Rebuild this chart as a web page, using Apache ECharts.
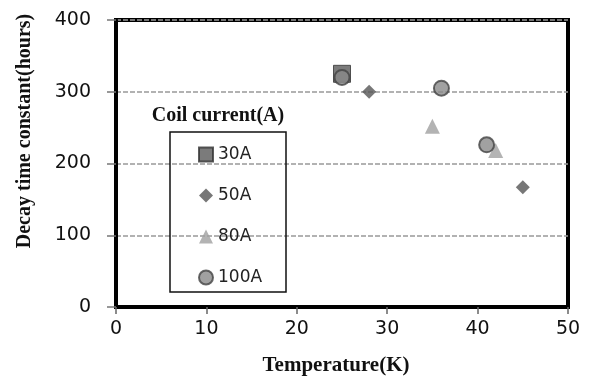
<!DOCTYPE html>
<html>
<head>
<meta charset="utf-8">
<script src="https://cdn.jsdelivr.net/npm/echarts@6/dist/echarts.min.js"></script>
<style>html,body{margin:0;padding:0;background:#fff;}#c{width:592px;height:381px;}</style>
</head>
<body>
<div id="c"></div>
<script>
const seriesNames = ['30A', '50A', '80A', '100A'];
const temp30 = [25];
const val30 = [325];
const temp50 = [28, 45];
const val50 = [300, 167];
const temp80 = [35, 42];
const val80 = [252, 218];
const temp100 = [25, 36, 41];
const val100 = [320, 305, 226];
const xTicks = [0, 10, 20, 30, 40, 50];
const yTicks = [0, 100, 200, 300, 400];
const xTitle = 'Temperature(K)';
const yTitle = 'Decay time constant(hours)';
const legendTitle = 'Coil current(A)';

function pairs(xs, ys) { return xs.map((x, i) => [x, ys[i]]); }

const chart = echarts.init(document.getElementById('c'));
const tickFont = { fontFamily: 'DejaVu Sans', fontSize: 19, color: '#111' };
const serif = '"Liberation Serif", "Times New Roman", serif';

chart.setOption({
  animation: false,
  backgroundColor: '#fff',
  grid: { left: 116, top: 20, right: 24, bottom: 74, show: true, borderColor: '#000', borderWidth: 4 },
  xAxis: {
    type: 'value', min: xTicks[0], max: xTicks[xTicks.length - 1], interval: 10,
    axisLine: { show: true, lineStyle: { color: '#000', width: 4 } },
    axisTick: { show: true, inside: false, length: 7, lineStyle: { color: '#666', width: 1.5 } },
    axisLabel: Object.assign({ margin: 13 }, tickFont),
    splitLine: { show: false }
  },
  yAxis: {
    type: 'value', min: yTicks[0], max: yTicks[yTicks.length - 1], interval: 100,
    axisLine: { show: true, lineStyle: { color: '#000', width: 4 } },
    axisTick: { show: true, inside: false, length: 9, lineStyle: { color: '#777', width: 1.5 } },
    axisLabel: Object.assign({ margin: 25 }, tickFont),
    splitLine: { show: true, lineStyle: { color: '#999', width: 1.5, type: [5, 2] } }
  },
  legend: {
    orient: 'vertical', left: 193, top: 141,
    itemWidth: 14, itemHeight: 14, itemGap: 24,
    textStyle: { fontFamily: 'DejaVu Sans', fontSize: 17, lineHeight: 17, color: '#222' },
    data: seriesNames
  },
  graphic: [
    { type: 'rect', shape: { x: 170, y: 132, width: 116, height: 160 }, style: { fill: 'none', stroke: '#111', lineWidth: 1.5 }, z: 100 },
    { type: 'text', x: 218, y: 116, style: { text: legendTitle, font: 'bold 20px ' + serif, fill: '#111', textAlign: 'center', textVerticalAlign: 'middle' }, z: 100 },
    { type: 'text', x: 336, y: 366, style: { text: xTitle, font: 'bold 21px ' + serif, fill: '#111', textAlign: 'center', textVerticalAlign: 'middle' }, z: 100 },
    { type: 'text', x: 25, y: 131, rotation: Math.PI / 2, style: { text: yTitle, font: 'bold 20px ' + serif, fill: '#111', textAlign: 'center', textVerticalAlign: 'middle' }, z: 100 }
  ],
  series: [
    { name: seriesNames[0], type: 'scatter', symbol: 'rect', symbolSize: 17, data: pairs(temp30, val30),
      itemStyle: { color: '#5a5a5a', borderColor: '#333', borderWidth: 1 } },
    { name: seriesNames[1], type: 'scatter', symbol: 'diamond', symbolSize: 14, data: pairs(temp50, val50),
      itemStyle: { color: '#555555' } },
    { name: seriesNames[2], type: 'scatter', symbol: 'triangle', symbolSize: 15, data: pairs(temp80, val80),
      itemStyle: { color: '#a0a0a0' } },
    { name: seriesNames[3], type: 'scatter', symbol: 'circle', symbolSize: 15, data: pairs(temp100, val100),
      itemStyle: { color: '#8a8a8a', borderColor: '#444', borderWidth: 2 } }
  ]
});
</script>
</body>
</html>
